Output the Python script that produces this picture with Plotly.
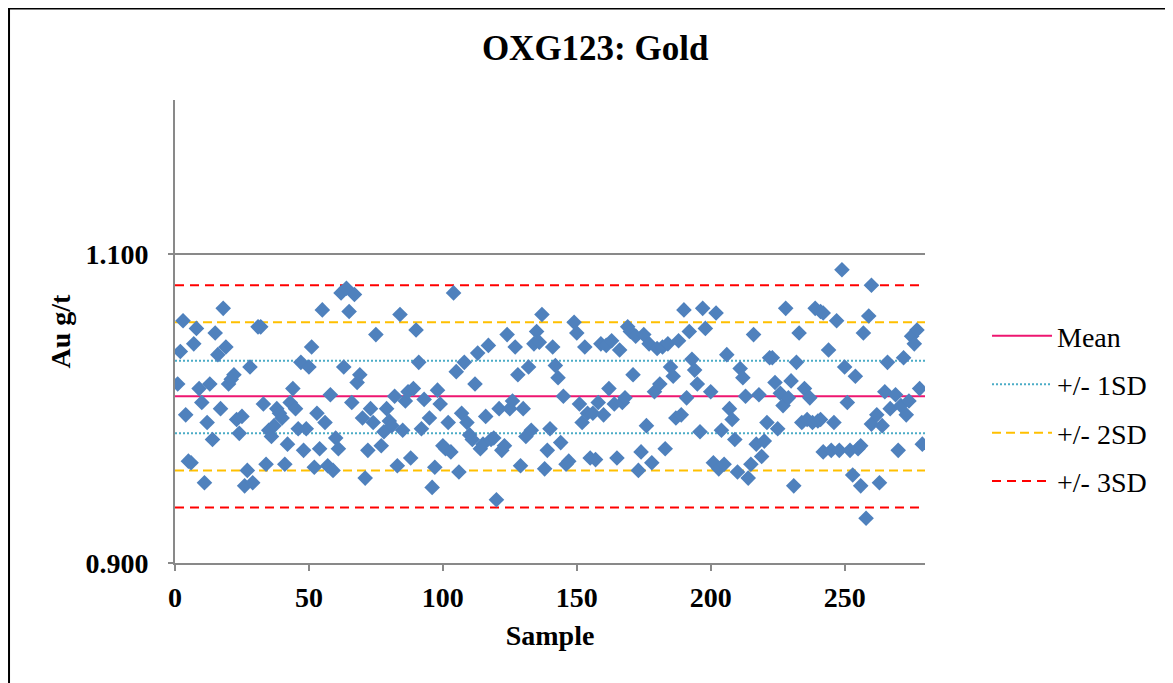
import plotly.graph_objects as go

# ---- data ----
samples = [
    1, 2, 3, 4, 5, 6, 7, 8, 9, 10, 11, 12, 13, 14, 15, 16, 17, 18, 19, 20,
    21, 22, 23, 24, 25, 26, 27, 28, 29, 31, 32, 33, 34, 35, 36, 37, 38, 39, 40,
    41, 42, 43, 44, 45, 46, 47, 48, 49, 50, 51, 52, 53, 54, 55, 56, 57, 58, 59, 60,
    61, 62, 63, 64, 65, 66, 67, 68, 69, 70, 71, 72, 73, 74, 75, 77, 78, 79, 80,
    81, 82, 83, 84, 85, 86, 87, 88, 89, 90, 91, 92, 93, 95, 96, 97, 98, 99, 100,
    101, 102, 103, 104, 105, 106, 107, 108, 109, 110, 111, 112, 113, 114, 115, 116, 117, 118, 119, 120,
    121, 122, 123, 124, 125, 126, 127, 128, 129, 130, 131, 132, 133, 134, 135, 136, 137, 138, 139, 140,
    141, 142, 143, 144, 145, 146, 147, 149, 150, 151, 152, 153, 154, 155, 156, 157, 158, 159, 160,
    161, 162, 163, 164, 165, 166, 167, 168, 169, 170, 171, 172, 173, 174, 175, 176, 177, 178, 179, 180,
    181, 182, 183, 184, 185, 186, 187, 188, 189, 190, 191, 192, 193, 194, 195, 196, 197, 198, 200,
    201, 202, 203, 204, 205, 206, 207, 208, 209, 210, 211, 212, 213, 214, 215, 216, 217, 218, 219, 220,
    221, 222, 223, 224, 225, 226, 227, 228, 229, 230, 231, 232, 233, 234, 235, 236, 237, 238, 239, 240,
    241, 241, 242, 242, 244, 245, 246, 247, 248, 249, 250, 251, 252, 253, 254, 255, 256, 256, 257, 258,
    259, 260, 260, 262, 263, 264, 265, 266, 267, 269, 270, 271, 272, 273, 274, 275, 276, 277, 278, 279,
]
au_gt = [
    1.016, 1.037, 1.057, 0.996, 0.966, 0.965, 1.042, 1.052, 1.013, 1.004, 0.952, 0.991, 1.016, 0.980, 1.049, 1.035, 1.000, 1.065, 1.040, 1.016,
    1.019, 1.022, 0.993, 0.984, 0.995, 0.950, 0.960, 1.027, 0.952, 1.053, 1.053, 1.003, 0.964, 0.986, 0.982, 0.989, 1.000, 0.997, 0.994,
    0.964, 0.977, 1.004, 1.013, 1.000, 0.987, 1.030, 0.973, 0.987, 1.027, 1.040, 0.962, 0.997, 0.974, 1.064, 0.991, 0.963, 1.009, 0.960, 0.981,
    0.974, 1.075, 1.027, 1.078, 1.063, 1.004, 1.074, 1.017, 1.022, 0.994, 0.955, 0.973, 1.000, 0.991, 1.048, 0.976, 0.985, 1.000, 0.992,
    0.989, 1.008, 0.963, 1.061, 0.986, 1.005, 1.011, 0.968, 1.013, 1.051, 1.030, 0.987, 1.006, 0.994, 0.949, 0.962, 1.012, 1.003, 0.976,
    0.974, 0.991, 0.972, 1.075, 1.024, 0.959, 0.997, 1.030, 0.991, 0.983, 0.980, 1.016, 1.036, 0.974, 0.977, 0.995, 1.041, 0.980, 0.981, 0.941,
    1.000, 0.973, 0.976, 1.048, 1.000, 1.005, 1.040, 1.022, 0.963, 1.000, 0.982, 1.027, 0.986, 1.042, 1.050, 1.043, 1.061, 0.961, 0.973, 0.987,
    1.040, 1.028, 1.020, 0.978, 1.008, 0.964, 0.966, 1.056, 1.049, 1.003, 0.991, 1.040, 0.997, 0.968, 0.997, 0.967, 1.004, 1.042, 0.996,
    1.041, 1.013, 1.044, 1.003, 0.968, 1.038, 1.004, 1.007, 1.053, 1.050, 1.022, 1.047, 0.960, 0.972, 1.048, 0.989, 1.042, 0.965, 1.011, 1.039,
    1.016, 1.040, 0.974, 1.042, 1.027, 1.021, 0.994, 1.044, 0.996, 1.064, 1.007, 1.050, 1.032, 1.025, 1.016, 0.985, 1.065, 1.052, 1.011,
    0.965, 1.062, 0.961, 0.986, 0.964, 1.035, 1.000, 0.993, 0.980, 0.959, 1.026, 1.020, 1.008, 0.955, 0.964, 1.048, 0.977, 1.009, 0.969, 0.979,
    0.991, 1.033, 1.033, 1.017, 0.987, 1.010, 1.002, 1.065, 1.007, 1.018, 0.950, 1.030, 1.049, 0.991, 1.013, 0.993, 1.007, 0.991, 1.065, 0.992,
    1.063, 0.993, 1.062, 0.972, 1.038, 0.973, 0.991, 1.057, 0.973, 1.090, 1.027, 1.004, 0.973, 0.957, 1.021, 0.974, 0.976, 0.950, 1.049, 0.929,
    1.060, 1.080, 0.990, 0.996, 0.952, 0.989, 1.011, 1.030, 1.000, 1.009, 0.973, 1.002, 1.033, 0.996, 1.005, 1.047, 1.042, 1.051, 1.013, 0.977,
]

mean_level = 1.008
sd1_levels = [1.031, 0.984]
sd2_levels = [1.056, 0.960]
sd3_levels = [1.080, 0.936]
line_span = [0, 280]

x_ticks = [0, 50, 100, 150, 200, 250]
y_ticks = [0.9, 1.1]

SERIF = "Liberation Serif, Times New Roman, serif"
AXIS_GRAY = "#898989"

fig = go.Figure()

fig.add_trace(go.Scatter(
    x=line_span, y=[mean_level, mean_level], mode="lines", name="Mean",
    legendgroup="mean", line=dict(color="#EE1670", width=2),
))

limit_sets = [
    (sd1_levels, "+/- 1SD", "#4BACC6", "2px,2px", "sd1"),
    (sd2_levels, "+/- 2SD", "#FFC000", "9px,5px", "sd2"),
    (sd3_levels, "+/- 3SD", "#FF0000", "9px,6px", "sd3"),
]
for levels, name, color, dash, grp in limit_sets:
    for i, lv in enumerate(levels):
        fig.add_trace(go.Scatter(
            x=line_span, y=[lv, lv], mode="lines", name=name, legendgroup=grp,
            showlegend=(i == 0), line=dict(color=color, width=2, dash=dash),
        ))

fig.add_trace(go.Scatter(
    x=samples, y=au_gt, mode="markers", name="Au g/t", showlegend=False,
    marker=dict(symbol="diamond", size=12, color="#4F81BD", line=dict(width=0)),
))

fig.update_layout(
    width=1165, height=675,
    margin=dict(l=167, r=248, t=92, b=120),
    paper_bgcolor="white", plot_bgcolor="white",
    font=dict(family=SERIF, color="black", size=28),
    title=dict(
        text="OXG123: Gold", x=0.504, xref="container", xanchor="center",
        y=1 - 40 / 675, yref="container", yanchor="middle",
        font=dict(family=SERIF, size=35, weight="bold", color="black"),
    ),
    legend=dict(
        x=1.0827, y=0.544, xanchor="left", yanchor="top",
        font=dict(family=SERIF, size=28, color="black"),
        bgcolor="rgba(0,0,0,0)", tracegroupgap=9, itemwidth=60,
    ),
    showlegend=True,
    shapes=[dict(
        type="rect", xref="paper", yref="paper",
        x0=-0.2213, x1=1.40, y0=-0.35, y1=1.1976,
        line=dict(color="black", width=2), fillcolor="rgba(0,0,0,0)", layer="above",
    )],
)

fig.update_xaxes(
    range=[0, 280], tickvals=x_ticks, showgrid=False, zeroline=False,
    showline=True, linecolor=AXIS_GRAY, linewidth=2,
    ticks="outside", ticklen=6, tickwidth=2, tickcolor=AXIS_GRAY,
    tickfont=dict(family=SERIF, size=28, weight="bold", color="black"),
    ticklabelstandoff=2,
    title=dict(text="Sample", standoff=14,
               font=dict(family=SERIF, size=28, weight="bold", color="black")),
)
fig.update_yaxes(
    range=[0.9, 1.2], tickvals=y_ticks, tickformat=".3f",
    showgrid=True, gridcolor=AXIS_GRAY, gridwidth=2, zeroline=False,
    showline=True, linecolor=AXIS_GRAY, linewidth=2,
    ticks="outside", ticklen=5, tickwidth=2, tickcolor=AXIS_GRAY,
    tickfont=dict(family=SERIF, size=28, weight="bold", color="black"),
    ticklabelstandoff=14,
    title=dict(text="Au g/t", standoff=7,
               font=dict(family=SERIF, size=28, weight="bold", color="black")),
)

fig.write_html("out.html")
